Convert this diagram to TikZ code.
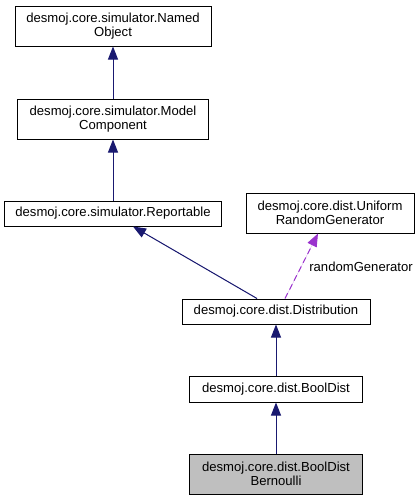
\documentclass[tikz,border=0pt]{standalone}
\usepackage{fontspec}
\setmainfont{Liberation Sans}
\usetikzlibrary{arrows.meta}
\definecolor{edgeblue}{HTML}{191970}
\definecolor{edgepurple}{HTML}{9A32CD}
\definecolor{boxgray}{HTML}{BFBFBF}
\begin{document}
\begin{tikzpicture}[x=1pt,y=-1pt,
  cls/.style={draw=black,line width=1pt,fill=white,rectangle,inner sep=0pt,align=center,
    font=\fontsize{13.1}{14.5}\selectfont},
  inh/.style={draw=edgeblue,line width=1pt,-{Triangle[length=13pt,width=10pt]},fill=edgeblue},
  usage/.style={draw=edgepurple,line width=1pt,dash pattern=on 6pt off 4pt,
    -{Triangle[length=13pt,width=10pt]},fill=edgepurple},
  lbl/.style={font=\fontsize{13.1}{14.5}\selectfont,inner sep=0pt}]
\useasboundingbox (0,0) rectangle (420,501);
\node[cls,minimum width=196pt,minimum height=40pt] (NO) at (113,26) {desmoj.core.simulator.Named\\Object};
\node[cls,minimum width=191pt,minimum height=40pt] (MC) at (113,119) {desmoj.core.simulator.Model\\Component};
\node[cls,minimum width=217pt,minimum height=25pt] (RP) at (113,213.5) {desmoj.core.simulator.Reportable};
\node[cls,minimum width=168pt,minimum height=40pt] (UR) at (330,213) {desmoj.core.dist.Uniform\\RandomGenerator};
\node[cls,minimum width=188pt,minimum height=25pt] (DI) at (276,311.5) {desmoj.core.dist.Distribution};
\node[cls,minimum width=173pt,minimum height=26pt] (BD) at (276,389) {desmoj.core.dist.BoolDist};
\node[cls,fill=boxgray,minimum width=173pt,minimum height=40pt] (BB) at (276,474) {desmoj.core.dist.BoolDist\\Bernoulli};
\draw[inh] (MC.north) -- (NO.south);
\draw[inh] (RP.north) -- (MC.south);
\draw[inh] ([xshift=-19pt]DI.north) -- ([xshift=20pt]RP.south);
\draw[usage] ([xshift=9pt]DI.north) -- node[lbl,right=8pt,pos=0.48] (RG) {randomGenerator} ([xshift=-12pt]UR.south);
\draw[inh] (BD.north) -- (DI.south);
\draw[inh] (BB.north) -- (BD.south);
\end{tikzpicture}
\end{document}
